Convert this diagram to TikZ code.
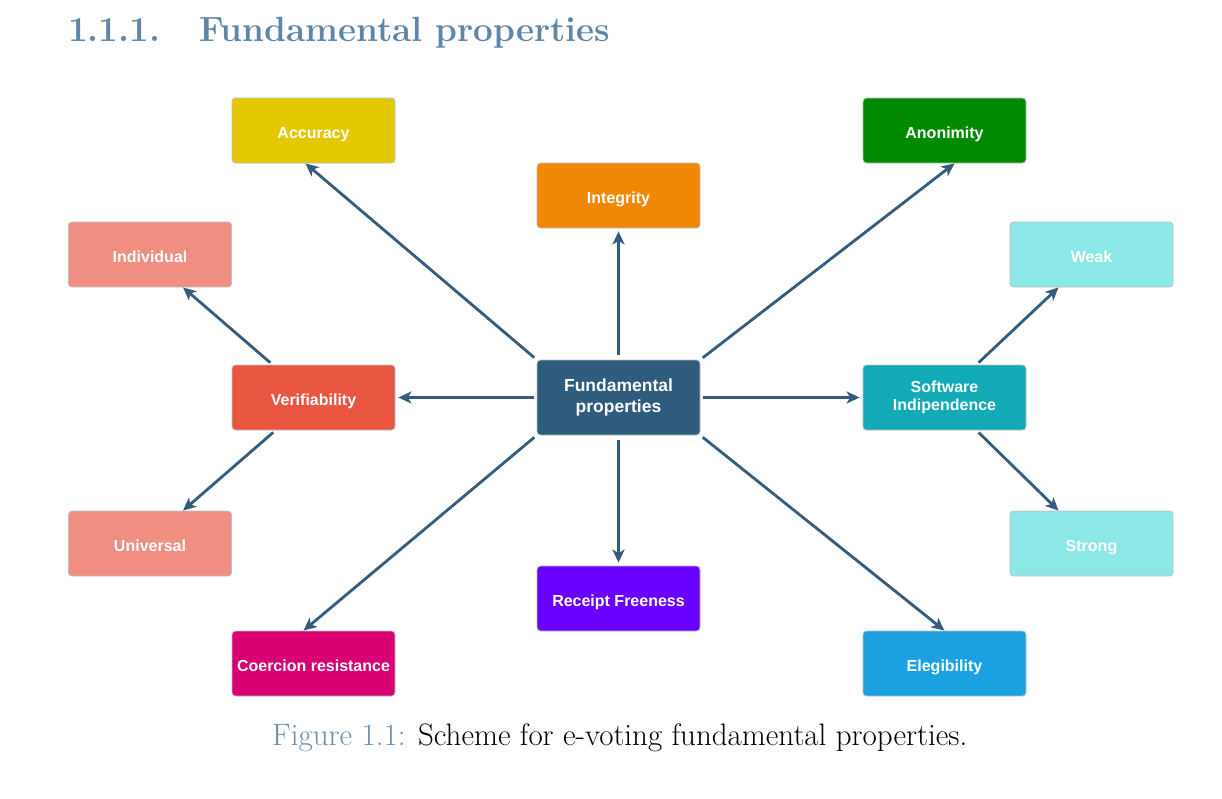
\documentclass[tikz,border=0pt]{standalone}
\usepackage{fontspec}
\newfontfamily\boxfont{Liberation Sans}
\usetikzlibrary{arrows.meta,calc}
\definecolor{titleblue}{RGB}{95,134,168}
\definecolor{capblue}{RGB}{110,142,172}
\definecolor{cAcc}{HTML}{E3C800}
\definecolor{cAno}{HTML}{008A00}
\definecolor{cInt}{HTML}{F08705}
\definecolor{cSal}{HTML}{F08E81}
\definecolor{cCya}{HTML}{8CE8E6}
\definecolor{cVer}{HTML}{E85642}
\definecolor{cFun}{HTML}{2F5B7C}
\definecolor{cSw}{HTML}{12AAB5}
\definecolor{cRec}{HTML}{6A00FF}
\definecolor{cCoe}{HTML}{D80073}
\definecolor{cEle}{HTML}{1BA1E2}
\definecolor{cArr}{HTML}{335C7E}
\tikzset{
  box/.style={rectangle, rounded corners=3.5pt, minimum width=163pt, minimum height=65pt,
    inner sep=0pt, text=white, align=center, draw=black!25, line width=0.8pt,
    font=\boxfont\bfseries\fontsize{16}{18.5}\selectfont},
  oneline/.style={box, text height=15pt, text depth=0pt},
  arr/.style={draw=cArr, line width=2.8pt, -{Stealth[length=13pt,width=12pt,inset=3.5pt]},
    shorten <=3pt},
}
\begin{document}
\begin{tikzpicture}[x=1pt,y=-1pt]
\useasboundingbox (0,0) rectangle (1222,798);
% title
\node[anchor=base west, inner sep=0pt, text=titleblue, font=\fontsize{35}{40}\selectfont\bfseries] (secnum) at (68,41) {1.1.1.};
\node[anchor=base west, inner sep=0pt, text=titleblue, font=\fontsize{35}{40}\selectfont\bfseries] (title) at (199,41) {Fundamental properties};
% boxes
\node[oneline, fill=cAcc] (acc) at (313.5,130.5) {Accuracy};
\node[oneline, fill=cAno] (ano) at (944.5,130.5) {Anonimity};
\node[oneline, fill=cInt] (int) at (618.5,195.5) {Integrity};
\node[oneline, fill=cSal] (ind) at (150,254.5) {Individual};
\node[oneline, fill=cCya] (weak) at (1091.5,254.5) {Weak};
\node[oneline, fill=cVer] (ver) at (313.5,397.5) {Verifiability};
\node[box, fill=cFun, minimum height=75pt, font=\boxfont\bfseries\fontsize{17.5}{21.5}\selectfont] (fund) at (618.5,397.5) {Fundamental\\properties};
\node[box, fill=cSw] (sw) at (944.5,397.5) {Software\\Indipendence};
\node[oneline, fill=cSal] (uni) at (150,543.5) {Universal};
\node[oneline, fill=cCya] (str) at (1091.5,543.5) {Strong};
\node[oneline, fill=cRec] (rec) at (618.5,598.5) {Receipt Freeness};
\node[oneline, fill=cCoe] (coe) at (313.5,663.5) {Coercion resistance};
\node[oneline, fill=cEle] (ele) at (944.5,663.5) {Elegibility};
% connectors
\draw[arr] (fund.north west) -- ([xshift=-8pt]acc.south);
\draw[arr, shorten <=5pt, shorten >=3pt] (fund.north) -- (int.south);
\draw[arr] (fund.north east) -- ([xshift=10pt]ano.south);
\draw[arr, shorten >=3pt] (fund.west) -- (ver.east);
\draw[arr, shorten >=3pt] (fund.east) -- (sw.west);
\draw[arr] (fund.south west) -- ([xshift=-10pt]coe.north);
\draw[arr, shorten <=5pt, shorten >=3pt] (fund.south) -- (rec.north);
\draw[arr] (fund.south east) -- (ele.north);
\draw[arr] ([xshift=-41pt]ver.north) -- ([xshift=33pt]ind.south);
\draw[arr] ([xshift=-38pt]ver.south) -- ([xshift=33pt]uni.north);
\draw[arr] ([xshift=32pt]sw.north) -- ([xshift=-33pt]weak.south);
\draw[arr] ([xshift=32pt]sw.south) -- ([xshift=-33pt]str.north);
% caption
\node[anchor=base west, inner sep=0pt, font=\fontsize{31}{36}\selectfont] (cap) at (272,745) {\textcolor{capblue}{Figure 1.1:} Scheme for e-voting fundamental properties.};
\end{tikzpicture}
\end{document}
